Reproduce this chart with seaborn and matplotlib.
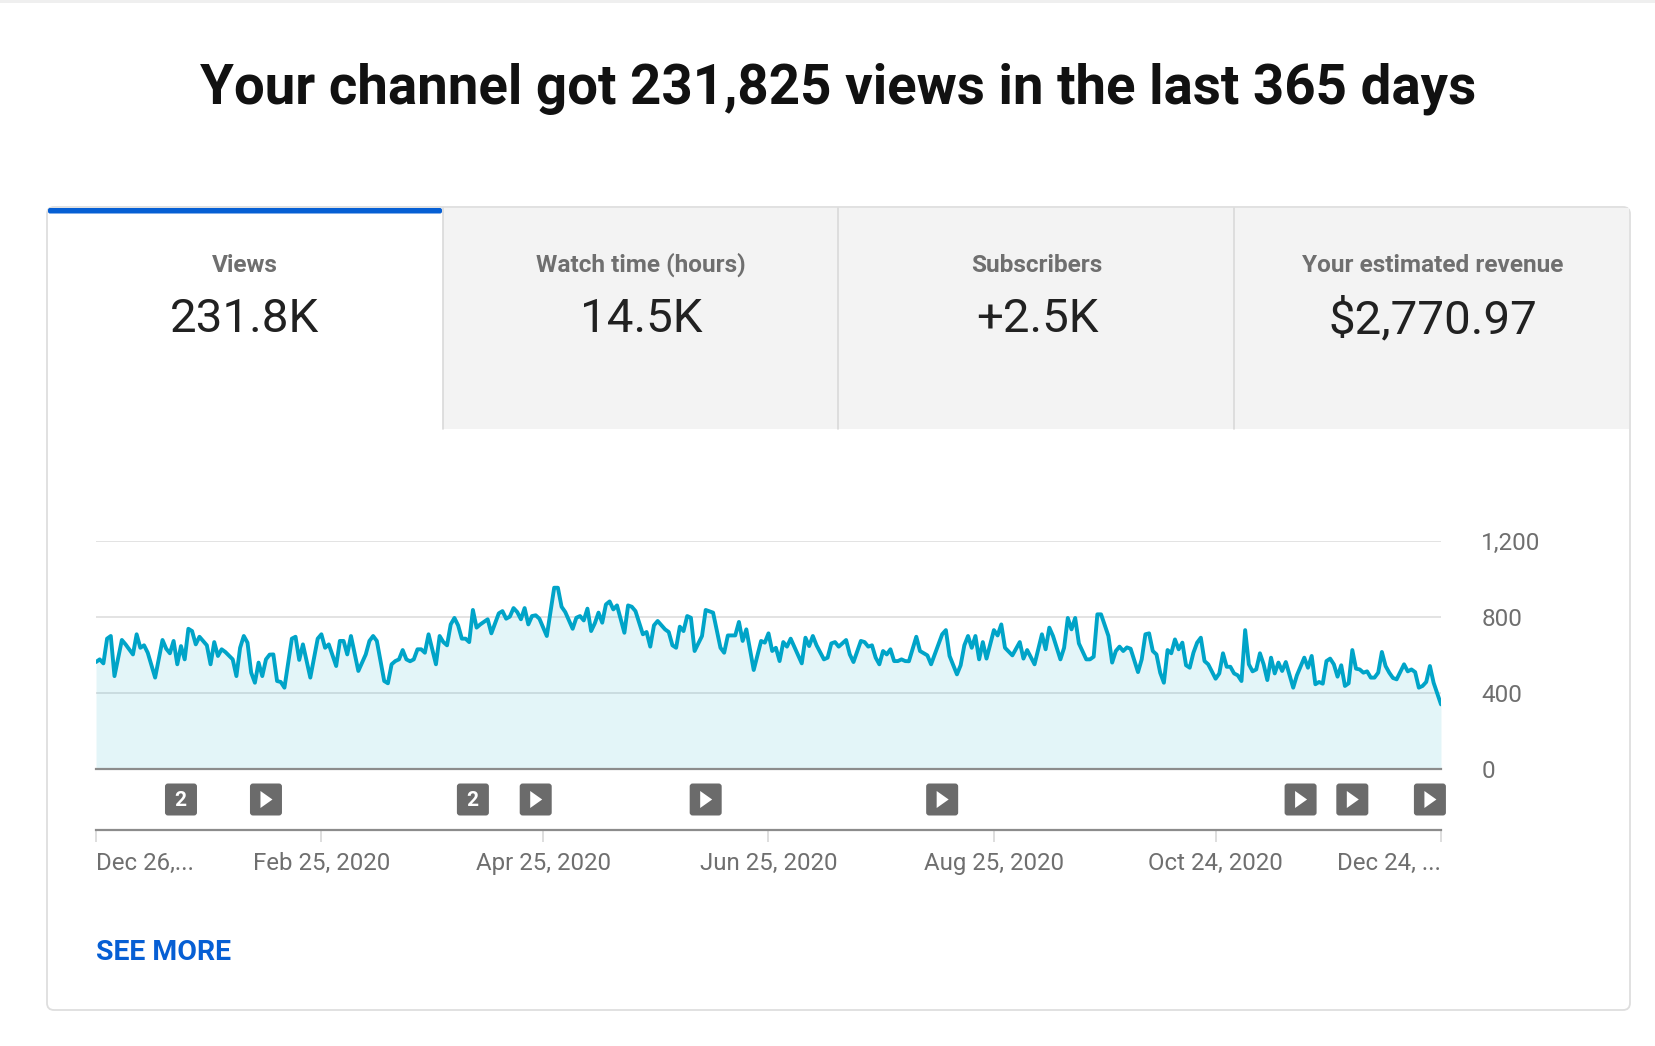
import matplotlib
matplotlib.use("Agg")
import matplotlib.pyplot as plt
from matplotlib.patches import FancyBboxPatch, Rectangle, Polygon
import matplotlib.dates as mdates
import pandas as pd
import seaborn as sns

# Daily views, by days since the start of the period
days = [0,1,2,3,4,5,7,8,10,11,12,13,14,16,18,19,20,21,22,23,24,25,26,27,28,30,31,32,33,34,35,37,38,39,40,41,42,43,44,45,46,47,48,49,50,51,53,54,55,56,58,60,61,62,63,65,66,67,68,69,71,73,74,75,76,78,79,80,81,82,83,84,85,86,87,88,89,90,92,93,94,95,96,97,98,99,100,101,102,103,104,106,107,109,110,111,112,113,114,115,
        116,117,118,119,120,122,124,125,126,127,129,130,131,132,133,134,135,136,137,138,139,140,141,143,144,145,146,148,149,150,151,152,154,155,156,157,158,159,160,161,162,164,165,167,169,170,171,173,174,175,176,178,180,181,182,183,184,185,186,187,188,191,192,193,194,195,197,198,199,200,201,203,204,205,207,208,209,210,211,212,213,214,215,216,217,218,219,220,222,223,225,226,229,230,231,233,234,235,236,237,238,239,
        240,241,243,244,245,246,248,250,251,252,254,256,257,258,259,261,262,263,264,265,266,268,269,270,271,272,274,275,276,277,278,279,280,282,283,284,285,286,287,288,289,290,291,292,293,294,295,296,297,298,299,300,301,303,304,305,306,307,308,309,310,311,312,313,314,315,316,317,318,319,320,321,322,324,325,327,328,329,330,331,332,333,334,335,336,337,338,339,340,341,342,343,344,345,346,347,348,349,350,351,352,354,355,356,357,358,359,360,361,362,364]
views = [563,577,556,686,700,489,679,656,603,709,638,651,612,481,679,633,609,674,551,647,577,738,726,656,696,651,551,668,595,630,616,577,489,638,700,665,507,454,560,489,577,602,603,463,458,428,686,696,574,656,481,686,709,638,656,542,674,674,603,700,516,603,674,700,674,463,451,551,568,577,626,577,567,577,630,630,612,709,551,700,668,651,761,795,756,686,686,668,837,744,761,788,714,819,831,791,802,847,826,788,
         847,761,805,809,791,700,954,954,854,826,738,796,805,782,844,726,767,823,770,866,882,840,861,717,861,854,831,709,721,644,756,779,735,721,651,638,749,726,805,796,621,700,837,823,638,612,703,703,774,674,735,521,674,665,714,621,638,568,668,644,686,556,691,647,700,651,577,586,661,668,644,679,603,563,674,668,644,651,586,551,621,603,630,568,568,577,568,567,696,621,598,551,709,731,595,498,546,651,700,638,700,577,
         668,581,731,703,761,638,598,668,581,626,551,709,630,744,700,577,638,795,735,795,661,577,577,591,814,814,700,560,621,644,621,640,633,510,577,709,714,621,603,507,454,626,609,682,630,665,546,533,612,665,691,568,551,475,503,609,538,538,503,493,463,731,551,514,524,609,551,468,586,503,560,516,563,428,493,586,533,595,446,458,449,568,581,551,486,546,437,451,626,528,524,507,514,481,481,507,616,542,507,479,472,551,514,524,510,428,437,458,542,454,340]

start_date = "2019-12-26"
y_ticks = [0, 400, 800, 1200]
y_tick_labels = ["0", "400", "800", "1,200"]
x_tick_dates = ["2019-12-26", "2020-02-25", "2020-04-25", "2020-06-25", "2020-08-25", "2020-10-24", "2020-12-24"]
x_tick_labels = ["Dec 26,...", "Feb 25, 2020", "Apr 25, 2020", "Jun 25, 2020", "Aug 25, 2020", "Oct 24, 2020", "Dec 24, ..."]
event_days = [23, 46, 102, 119, 165, 229, 326, 340, 361]
event_labels = ["2", "", "2", "", "", "", "", "", ""]

tab_titles = ["Views", "Watch time (hours)", "Subscribers", "Your estimated revenue"]
tab_values = ["231.8K", "14.5K", "+2.5K", "$2,770.97"]
headline = "Your channel got 231,825 views in the last 365 days"

W, H = 1656, 1046
GREY_TEXT = "#6f6f6f"
LINE = "#00a4c8"
BLUE = "#065fd4"

sns.set_theme(style="white")
plt.rcParams["font.family"] = ["Roboto", "DejaVu Sans"]

fig = plt.figure(figsize=(W / 100, H / 100), dpi=100, facecolor="white")


def box(x0, y0, x1, y1):
    """Axes rectangle from pixel edges, y measured from the top."""
    return [x0 / W, 1 - y1 / H, (x1 - x0) / W, (y1 - y0) / H]


# Page layer in pixel units: card, tabs, headline
page = fig.add_axes([0, 0, 1, 1], zorder=0)
page.set_xlim(0, W)
page.set_ylim(H, 0)
page.axis("off")

page.add_patch(Rectangle((0, 0), W, 2.5, fc="#efefef", ec="none"))
page.text(838.5, 89, headline, ha="center", va="center", fontsize=39.3,
          fontweight="bold", color="#111111")

page.add_patch(FancyBboxPatch((47, 207), 1583, 803, boxstyle="round,pad=0,rounding_size=7",
                              fc="white", ec="#dedede", lw=1.3))
page.add_patch(Rectangle((443, 208), 1186, 221, fc="#f3f3f3", ec="none"))
for x in (443, 838.5, 1234.5):
    page.plot([x, x], [208, 429], color="#d9d9d9", lw=1.2)
page.add_patch(FancyBboxPatch((48, 208), 394, 5.5, boxstyle="round,pad=0,rounding_size=2",
                              fc=BLUE, ec="none"))
for cx, title, value in zip((245, 641, 1037, 1433), tab_titles, tab_values):
    page.text(cx, 265, title, ha="center", va="center", fontsize=17.6, fontweight="bold", color=GREY_TEXT)
    page.text(cx, 319.5, value, ha="center", va="center", fontsize=34.2, color="#212121")

page.text(96, 953, "SEE MORE", ha="left", va="center", fontsize=20.4, fontweight="bold", color=BLUE)

# Views chart
frame = pd.DataFrame({"date": pd.Timestamp(start_date) + pd.to_timedelta(days, unit="D"), "views": views})
ax = fig.add_axes(box(96, 541, 1441, 769), zorder=1, facecolor="none")
ax.fill_between(frame["date"], 0, frame["views"], color=LINE, alpha=0.11, lw=0, zorder=2)
sns.lineplot(data=frame, x="date", y="views", ax=ax, color=LINE, lw=2.8, zorder=3, errorbar=None)

xmin = mdates.date2num(pd.Timestamp(x_tick_dates[0]))
xmax = mdates.date2num(pd.Timestamp(x_tick_dates[-1]))
ax.set_xlim(xmin, xmax)
ax.set_ylim(0, 1200)
ax.set_xlabel("")
ax.set_ylabel("")
ax.set_xticks([])
ax.yaxis.tick_right()
ax.set_yticks(y_ticks, y_tick_labels)
ax.tick_params(axis="y", length=0, pad=29, labelsize=17.5, labelcolor=GREY_TEXT)
ax.grid(axis="y", color="#dedede", lw=1.2, zorder=1)
ax.set_axisbelow(True)
for side in ("top", "left", "right"):
    ax.spines[side].set_visible(False)
ax.spines["bottom"].set_color("#8c8c8c")
ax.spines["bottom"].set_linewidth(1.6)
ax.spines["bottom"].set_zorder(4)

# Date axis under the event markers
tl = fig.add_axes(box(96, 829.5, 1441, 830.5), zorder=1, facecolor="none")
tl.set_xlim(xmin, xmax)
tl.set_ylim(0, 1)
tl.set_yticks([])
tl.set_xticks(mdates.date2num(pd.to_datetime(x_tick_dates)), x_tick_labels)
tl.tick_params(axis="x", bottom=True, length=8, width=1.2, color="#d8d8d8", pad=7.8, labelsize=17.3, labelcolor=GREY_TEXT)
labels = tl.get_xticklabels()
labels[0].set_ha("left")
labels[-1].set_ha("right")
for side in ("left", "right", "bottom"):
    tl.spines[side].set_visible(False)
tl.spines["top"].set_color("#8c8c8c")
tl.spines["top"].set_linewidth(1.6)

# Event markers positioned on the chart's date scale
markers = fig.add_axes([0, 0, 1, 1], zorder=2, facecolor="none")
markers.set_xlim(0, W)
markers.set_ylim(H, 0)
markers.axis("off")
for day, label in zip(event_days, event_labels):
    px = ax.transData.transform((xmin + day, 0))[0]
    markers.add_patch(FancyBboxPatch((px - 16, 783.5), 32, 32, boxstyle="round,pad=0,rounding_size=3",
                                     fc="#6b6b6b", ec="none"))
    if label:
        markers.text(px - 1, 800.5, label, ha="center", va="center", fontsize=15, fontweight="bold", color="white")
    else:
        markers.add_patch(Polygon([(px - 5.5, 791), (px - 5.5, 808), (px + 6.5, 799.5)], fc="white", ec="none"))

fig.savefig("out.png", dpi=100)
